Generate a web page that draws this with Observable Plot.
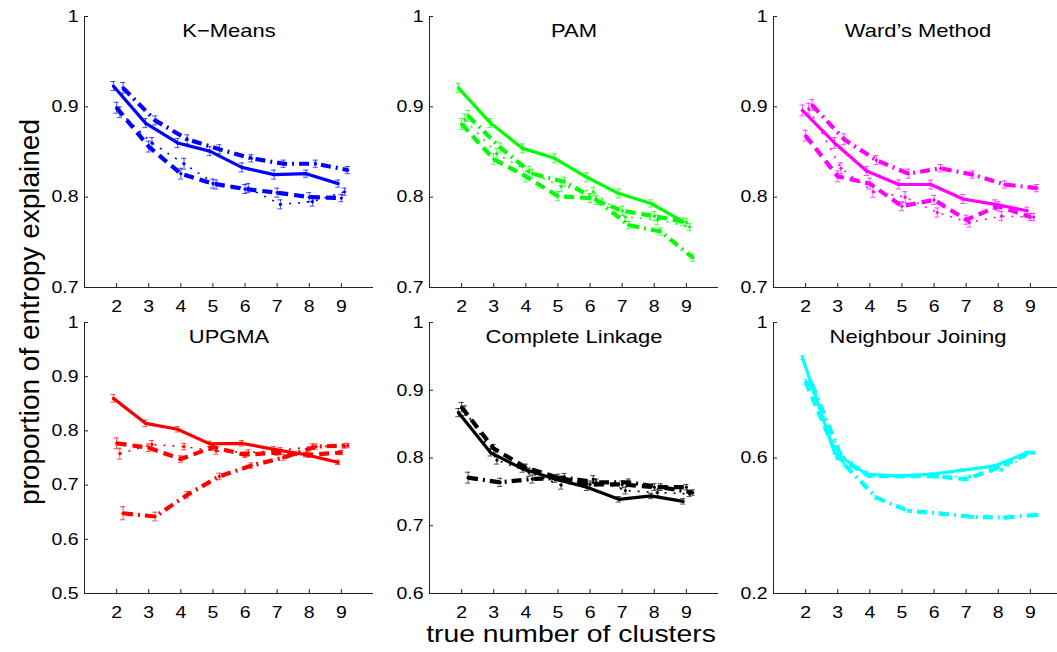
<!DOCTYPE html>
<html>
<head>
<meta charset="utf-8">
<script src="https://cdn.jsdelivr.net/npm/d3@7"></script>
<script src="https://cdn.jsdelivr.net/npm/@observablehq/plot@0.6"></script>
<style>
  html, body { margin: 0; padding: 0; background: #fff; }
  #fig {
    position: relative; width: 1057px; height: 652px; overflow: hidden; background: #fff;
    font-family: "Liberation Sans", Arial, Helvetica, sans-serif; color: #000;
  }
  .panel { position: absolute; }
  .axis-title { position: absolute; white-space: nowrap; line-height: 1; }
</style>
</head>
<body>
<div id="fig"></div>
<script>
// True number of clusters (x axis)
const clusters = [2, 3, 4, 5, 6, 7, 8, 9];

// Panel titles, colours and y ranges
const titles = ["K−Means", "PAM", "Ward’s Method", "UPGMA", "Complete Linkage", "Neighbour Joining"];
const colors = ["#0000ff", "#00ff00", "#ff00ff", "#ff0000", "#000000", "#00ffff"];
const yDomains = [[0.7, 1], [0.7, 1], [0.7, 1], [0.5, 1], [0.6, 1], [0.2, 1]];
const yTickSets = [
  [0.7, 0.8, 0.9, 1], [0.7, 0.8, 0.9, 1], [0.7, 0.8, 0.9, 1],
  [0.5, 0.6, 0.7, 0.8, 0.9, 1], [0.6, 0.7, 0.8, 0.9, 1], [0.2, 0.6, 1]
];

// Proportion of entropy explained; rows are the four series (solid, dashed, dotted, dash-dot)
const kmeans = [
  [0.923, 0.882, 0.860, 0.851, 0.833, 0.825, 0.826, 0.815],
  [0.899, 0.856, 0.826, 0.815, 0.809, 0.805, 0.800, 0.799],
  [0.894, 0.860, 0.837, 0.814, 0.810, 0.792, 0.795, 0.806],
  [0.921, 0.885, 0.864, 0.853, 0.843, 0.837, 0.837, 0.830]
];
const kmeansErr = [
  [0.005, 0.005, 0.005, 0.005, 0.005, 0.005, 0.004, 0.004],
  [0.006, 0.006, 0.006, 0.005, 0.005, 0.005, 0.005, 0.004],
  [0.006, 0.006, 0.006, 0.005, 0.005, 0.005, 0.005, 0.004],
  [0.006, 0.005, 0.005, 0.005, 0.004, 0.004, 0.004, 0.004]
];

const pam = [
  [0.921, 0.882, 0.854, 0.843, 0.822, 0.804, 0.793, 0.773],
  [0.881, 0.842, 0.823, 0.801, 0.799, 0.785, 0.779, 0.772],
  [0.886, 0.848, 0.828, 0.812, 0.806, 0.778, 0.775, 0.767],
  [0.890, 0.855, 0.826, 0.817, 0.797, 0.769, 0.762, 0.733]
];
const pamErr = [
  [0.005, 0.005, 0.005, 0.005, 0.005, 0.005, 0.004, 0.004],
  [0.006, 0.006, 0.006, 0.005, 0.005, 0.005, 0.005, 0.004],
  [0.006, 0.006, 0.006, 0.006, 0.005, 0.005, 0.005, 0.004],
  [0.006, 0.005, 0.005, 0.005, 0.005, 0.004, 0.004, 0.004]
];

const wards = [
  [0.896, 0.860, 0.829, 0.814, 0.814, 0.798, 0.792, 0.785],
  [0.868, 0.823, 0.815, 0.790, 0.797, 0.775, 0.790, 0.778],
  [0.898, 0.832, 0.806, 0.800, 0.783, 0.772, 0.779, 0.778],
  [0.902, 0.864, 0.841, 0.826, 0.832, 0.825, 0.814, 0.810]
];
const wardsErr = [
  [0.006, 0.006, 0.005, 0.005, 0.005, 0.005, 0.005, 0.004],
  [0.006, 0.006, 0.006, 0.005, 0.005, 0.005, 0.005, 0.004],
  [0.006, 0.006, 0.006, 0.006, 0.005, 0.005, 0.005, 0.004],
  [0.006, 0.006, 0.005, 0.005, 0.004, 0.004, 0.004, 0.004]
];

const upgma = [
  [0.860, 0.814, 0.803, 0.776, 0.777, 0.766, 0.756, 0.742],
  [0.777, 0.769, 0.748, 0.770, 0.756, 0.760, 0.756, 0.760],
  [0.758, 0.775, 0.771, 0.763, 0.760, 0.764, 0.771, 0.772],
  [0.648, 0.642, 0.682, 0.716, 0.736, 0.751, 0.771, 0.773]
];
const upgmaErr = [
  [0.007, 0.006, 0.005, 0.005, 0.005, 0.005, 0.004, 0.004],
  [0.010, 0.007, 0.006, 0.006, 0.005, 0.005, 0.005, 0.004],
  [0.010, 0.007, 0.006, 0.006, 0.005, 0.005, 0.005, 0.004],
  [0.012, 0.008, 0.006, 0.006, 0.005, 0.005, 0.005, 0.004]
];

const complete = [
  [0.867, 0.808, 0.784, 0.769, 0.757, 0.739, 0.744, 0.736],
  [0.875, 0.814, 0.786, 0.771, 0.761, 0.761, 0.757, 0.757],
  [0.870, 0.797, 0.779, 0.760, 0.769, 0.752, 0.749, 0.747],
  [0.771, 0.764, 0.769, 0.771, 0.764, 0.764, 0.757, 0.749]
];
const completeErr = [
  [0.006, 0.005, 0.005, 0.005, 0.005, 0.004, 0.004, 0.004],
  [0.007, 0.006, 0.005, 0.005, 0.005, 0.005, 0.005, 0.004],
  [0.007, 0.006, 0.006, 0.006, 0.005, 0.005, 0.005, 0.004],
  [0.008, 0.006, 0.006, 0.006, 0.005, 0.005, 0.005, 0.004]
];

const neighbour = [
  [0.897, 0.616, 0.552, 0.547, 0.552, 0.564, 0.577, 0.616],
  [0.825, 0.601, 0.547, 0.546, 0.547, 0.537, 0.572, 0.616],
  [0.820, 0.610, 0.549, 0.547, 0.545, 0.545, 0.565, 0.615],
  [0.818, 0.582, 0.483, 0.444, 0.436, 0.426, 0.424, 0.432]
];
const neighbourErr = [
  [0.006, 0.005, 0.004, 0.004, 0.004, 0.004, 0.004, 0.004],
  [0.008, 0.006, 0.005, 0.004, 0.004, 0.004, 0.004, 0.004],
  [0.008, 0.006, 0.005, 0.004, 0.004, 0.004, 0.004, 0.004],
  [0.008, 0.006, 0.005, 0.004, 0.004, 0.004, 0.004, 0.004]
];

const panelValues = [kmeans, pam, wards, upgma, complete, neighbour];
const panelErrors = [kmeansErr, pamErr, wardsErr, upgmaErr, completeErr, neighbourErr];

// Series drawing: horizontal jitter and line styles
const seriesOffset = [-0.1, 0, 0.1, 0.2];
const seriesStyle = [
  {strokeWidth: 3.2},
  {strokeWidth: 4.2, strokeDasharray: "10,6"},
  {strokeWidth: 1.6, strokeDasharray: "2,7"},
  {strokeWidth: 4.2, strokeDasharray: "10,5,2,5"}
];

// Layout of the 2 x 3 grid (frame origin of each panel)
const frameLeft = [84, 429, 773];
const frameTop = [16, 322];
const innerW = 289, innerH = 271;
const mL = 50, mR = 8, mT = 8, mB = 34;
const xDomain = [1, 10];
const capHalf = 0.08;
const stretch = 1.18;

const fig = document.getElementById("fig");
const fmt = d => String(d);

function drawPanel(i) {
  const color = colors[i];
  const rows = [];
  panelValues[i].forEach((vals, s) => vals.forEach((v, k) => rows.push({
    s, x: clusters[k] + seriesOffset[s], v, e: panelErrors[i][s][k]
  })));
  const axisColor = "#222";
  const marks = [];
  // data lines
  for (let s = 0; s < 4; s++) {
    marks.push(Plot.line(rows.filter(d => d.s === s), {
      x: "x", y: "v", stroke: color, strokeLinecap: "butt", strokeLinejoin: "round", ...seriesStyle[s]
    }));
  }
  // error bars with caps
  marks.push(
    Plot.ruleX(rows, {x: "x", y1: d => d.v - d.e, y2: d => d.v + d.e, stroke: color, strokeWidth: 1, strokeOpacity: 0.7}),
    Plot.ruleY(rows, {y: d => d.v - d.e, x1: d => d.x - capHalf, x2: d => d.x + capHalf, stroke: color, strokeWidth: 1, strokeOpacity: 0.7}),
    Plot.ruleY(rows, {y: d => d.v + d.e, x1: d => d.x - capHalf, x2: d => d.x + capHalf, stroke: color, strokeWidth: 1, strokeOpacity: 0.7}),
    Plot.dot(rows, {x: "x", y: "v", r: 1.6, fill: color, stroke: "none"})
  );
  // axis lines and inward ticks
  marks.push(
    Plot.ruleX([xDomain[0]], {x: d => d, stroke: axisColor, strokeWidth: 1}),
    Plot.ruleY([yDomains[i][0]], {y: d => d, stroke: axisColor, strokeWidth: 1}),
    Plot.ruleX(clusters, {x: d => d, insetTop: innerH - 4, stroke: axisColor, strokeWidth: 1}),
    Plot.ruleY(yTickSets[i], {y: d => d, insetRight: innerW - 4, stroke: axisColor, strokeWidth: 1}),
    Plot.text([titles[i]], {text: d => d, frameAnchor: "top", lineAnchor: "middle", dy: 15, fontSize: 18.6, fill: "#000"})
  );

  const svg = Plot.plot({
    width: mL + innerW + mR,
    height: mT + innerH + mB,
    marginLeft: mL, marginRight: mR, marginTop: mT, marginBottom: mB,
    style: {fontFamily: "'Liberation Sans', Arial, Helvetica, sans-serif", fontSize: "16.5px", color: "#000", background: "transparent", overflow: "visible"},
    x: {domain: xDomain, ticks: clusters, tickSize: 0, tickPadding: 13, tickFormat: fmt, label: null},
    y: {domain: yDomains[i], ticks: yTickSets[i], tickSize: 0, tickPadding: 6, tickFormat: fmt, label: null},
    marks
  });
  svg.classList.add("panel");
  svg.style.left = (frameLeft[i % 3] - mL) + "px";
  svg.style.top = (frameTop[Math.floor(i / 3)] - mT) + "px";
  fig.appendChild(svg);
  // widen the glyphs slightly, as in the original figure's aspect
  svg.querySelectorAll("text").forEach(t => {
    const w = t.getComputedTextLength();
    if (w > 0) {
      t.setAttribute("textLength", (w * stretch).toFixed(2));
      t.setAttribute("lengthAdjust", "spacingAndGlyphs");
    }
  });
}

for (let i = 0; i < 6; i++) drawPanel(i);

// Shared axis titles
const yTitle = document.createElement("div");
yTitle.className = "axis-title";
yTitle.textContent = "proportion of entropy explained";
Object.assign(yTitle.style, {left: "30px", top: "312px", fontSize: "28px", transform: "translate(-50%, -50%) rotate(-90deg)"});
fig.appendChild(yTitle);

const xTitle = document.createElement("div");
xTitle.className = "axis-title";
xTitle.textContent = "true number of clusters";
Object.assign(xTitle.style, {left: "571px", top: "634px", fontSize: "24px", transform: "translate(-50%, -50%) scaleX(1.18)"});
fig.appendChild(xTitle);
</script>
</body>
</html>
